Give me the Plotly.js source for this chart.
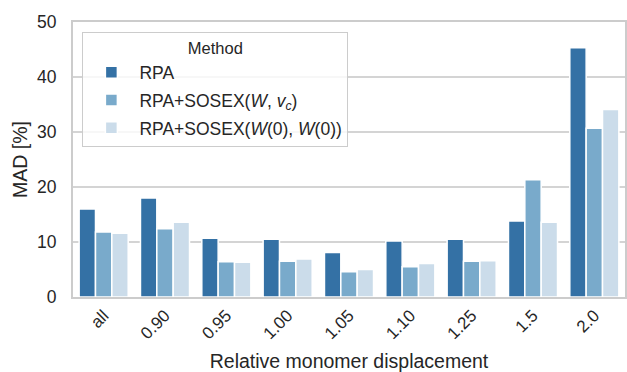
<!DOCTYPE html>
<html>
<head>
<meta charset="utf-8">
<script src="https://cdn.plot.ly/plotly-3.0.1.min.js"></script>
<style>html,body{margin:0;padding:0;background:#fff;}#chart{width:627px;height:372px;}</style>
</head>
<body>
<div id="chart"></div>
<script>
const categories = ["all", "0.90", "0.95", "1.00", "1.05", "1.10", "1.25", "1.5", "2.0"];
const seriesNames = ["RPA", "RPA+SOSEX(<i>W</i>, <i>v</i><sub><i>c</i></sub>)", "RPA+SOSEX(<i>W</i>(0), <i>W</i>(0))"];
const rpa      = [16.0, 18.0, 10.7, 10.5, 8.1, 10.2, 10.5, 13.8, 45.3];
const sosexWvc = [11.8, 12.4, 6.4, 6.5, 4.6, 5.5, 6.5, 21.3, 30.7];
const sosexW0  = [11.6, 13.6, 6.3, 6.9, 5.0, 6.1, 6.6, 13.6, 34.1];
const colors = ["#3471a5", "#79aacb", "#cbdcea"];
const yTicks = [0, 10, 20, 30, 40, 50];

const allSeries = [rpa, sosexWvc, sosexW0];
const txt = "#262626";
const traces = allSeries.map((vals, i) => ({
  type: "bar",
  name: seriesNames[i],
  x: categories,
  y: vals,
  legendgroup: "g" + i,
  marker: {color: colors[i], line: {color: "#ffffff", width: 1.5}},
  hoverinfo: "x+y+name"
}));

const layout = {
  width: 627, height: 372,
  margin: {l: 73, r: 2, t: 22, b: 75},
  paper_bgcolor: "#ffffff", plot_bgcolor: "#ffffff",
  font: {family: "Liberation Sans, Arial, sans-serif", color: txt, size: 17},
  barmode: "group", bargap: 0.2, bargroupgap: 0,
  xaxis: {
    type: "category",
    tickangle: -45,
    tickfont: {size: 17, color: txt},
    showgrid: false,
    showline: true, mirror: true, linecolor: "#cccccc", linewidth: 2,
    ticks: "",
    title: {text: "Relative monomer displacement", font: {size: 19.5, color: txt}, standoff: 13}
  },
  yaxis: {
    range: [0, 50],
    tickvals: yTicks,
    ticktext: yTicks.map(String),
    tickfont: {size: 17.5, color: txt},
    ticklabelstandoff: 11,
    showgrid: true, gridcolor: "#d4d4d4", gridwidth: 1.3,
    zeroline: false,
    showline: true, mirror: true, linecolor: "#cccccc", linewidth: 2,
    ticks: "",
    title: {text: "MAD [%]", font: {size: 19.5, color: txt}, standoff: 4}
  },
  legend: {
    x: 0.017, y: 0.964, xanchor: "left", yanchor: "top",
    bgcolor: "rgba(255,255,255,0.8)", bordercolor: "#cccccc", borderwidth: 1,
    font: {size: 17.5, color: txt},
    title: {text: "Method", side: "top center", font: {size: 16.5, color: txt}},
    tracegroupgap: 2,
    itemwidth: 46
  },
  showlegend: true
};

Plotly.newPlot("chart", traces, layout, {displayModeBar: false, staticPlot: true});
</script>
</body>
</html>
